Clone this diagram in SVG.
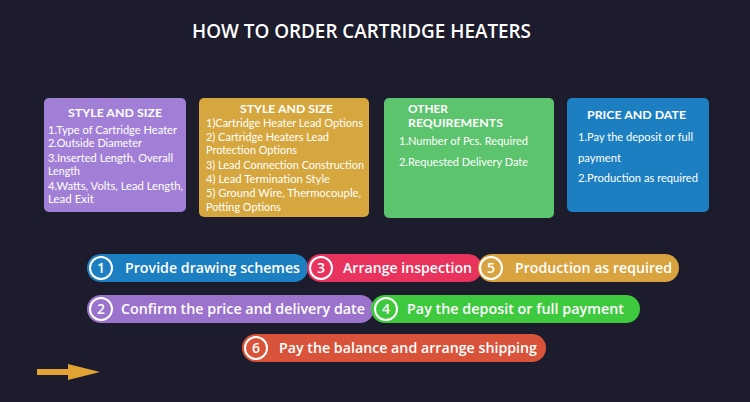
<svg xmlns="http://www.w3.org/2000/svg" width="750" height="402" viewBox="0 0 750 402">
<defs>
<style>
text{font-family:"Open Sans","Noto Sans","Liberation Sans",sans-serif;fill:#ffffff;}
.title{font-size:19px;font-weight:600;}
.bh{font-family:Lato,"Open Sans",sans-serif;font-size:12px;font-weight:700;}
.bt{font-family:Lato,"Open Sans",sans-serif;font-size:10.5px;}
.pt{font-size:14px;font-weight:600;}
.num{font-size:14px;font-weight:600;text-anchor:middle;}
.ring{fill:none;stroke:#ffffff;stroke-width:2;}
</style>
</defs>
<rect width="750" height="402" fill="#1c1c2c"/>
<text class="title" x="192" y="38" textLength="339" lengthAdjust="spacingAndGlyphs">HOW TO ORDER CARTRIDGE HEATERS</text>

<g id="box-style-size-1">
<rect x="44" y="98" width="142" height="114" rx="5" fill="#a27fd6"/>
<text class="bh" x="68" y="117" textLength="94" lengthAdjust="spacingAndGlyphs">STYLE AND SIZE</text>
<text class="bt" x="48" y="134" textLength="129" lengthAdjust="spacingAndGlyphs">1.Type of Cartridge Heater</text>
<text class="bt" x="48" y="147" textLength="94" lengthAdjust="spacingAndGlyphs">2.Outside Diameter</text>
<text class="bt" x="48" y="162" textLength="125" lengthAdjust="spacingAndGlyphs">3.Inserted Length, Overall</text>
<text class="bt" x="48" y="175" textLength="32" lengthAdjust="spacingAndGlyphs">Length</text>
<text class="bt" x="48" y="190" textLength="135" lengthAdjust="spacingAndGlyphs">4.Watts, Volts, Lead Length,</text>
<text class="bt" x="48" y="203" textLength="46" lengthAdjust="spacingAndGlyphs">Lead Exit</text>
</g>

<g id="box-style-size-2">
<rect x="199" y="98" width="170" height="119" rx="5" fill="#d6a73e"/>
<text class="bh" x="240" y="113" textLength="93" lengthAdjust="spacingAndGlyphs">STYLE AND SIZE</text>
<text class="bt" x="206" y="127" textLength="157" lengthAdjust="spacingAndGlyphs">1)Cartridge Heater Lead Options</text>
<text class="bt" x="206" y="141" textLength="123" lengthAdjust="spacingAndGlyphs">2) Cartridge Heaters Lead</text>
<text class="bt" x="206" y="154" textLength="91" lengthAdjust="spacingAndGlyphs">Protection Options</text>
<text class="bt" x="206" y="169" textLength="158" lengthAdjust="spacingAndGlyphs">3) Lead Connection Construction</text>
<text class="bt" x="206" y="183" textLength="124" lengthAdjust="spacingAndGlyphs">4) Lead Termination Style</text>
<text class="bt" x="206" y="197" textLength="155" lengthAdjust="spacingAndGlyphs">5) Ground Wire, Thermocouple,</text>
<text class="bt" x="206" y="211" textLength="75" lengthAdjust="spacingAndGlyphs">Potting Options</text>
</g>

<g id="box-other-requirements">
<rect x="384" y="98" width="170" height="120" rx="5" fill="#5cc46c"/>
<text class="bh" x="408" y="113" textLength="40" lengthAdjust="spacingAndGlyphs" style="font-size:11.5px">OTHER</text>
<text class="bh" x="408" y="127" textLength="95" lengthAdjust="spacingAndGlyphs" style="font-size:11.5px">REQUIREMENTS</text>
<text class="bt" x="399" y="145" textLength="129" lengthAdjust="spacingAndGlyphs">1.Number of Pcs. Required</text>
<text class="bt" x="399" y="166" textLength="129" lengthAdjust="spacingAndGlyphs">2.Requested Delivery Date</text>
</g>

<g id="box-price-date">
<rect x="567" y="98" width="142" height="114" rx="5" fill="#1c7fc2"/>
<text class="bh" x="587" y="119" textLength="99" lengthAdjust="spacingAndGlyphs">PRICE AND DATE</text>
<text class="bt" x="578" y="141" textLength="115" lengthAdjust="spacingAndGlyphs">1.Pay the deposit or full</text>
<text class="bt" x="578" y="162" textLength="43" lengthAdjust="spacingAndGlyphs">payment</text>
<text class="bt" x="578" y="182" textLength="120" lengthAdjust="spacingAndGlyphs">2.Production as required</text>
</g>

<g id="step-1">
<rect x="87" y="254" width="221" height="28" rx="14" fill="#1c7fc2"/>
<circle class="ring" cx="101" cy="268" r="11"/>
<text class="num" x="101" y="273">1</text>
<text class="pt" x="125" y="273" textLength="175" lengthAdjust="spacingAndGlyphs">Provide drawing schemes</text>
</g>

<g id="step-3">
<rect x="307" y="254" width="175" height="28" rx="14" fill="#e8335c"/>
<circle class="ring" cx="321" cy="268" r="11"/>
<text class="num" x="321" y="273">3</text>
<text class="pt" x="343" y="273" textLength="129" lengthAdjust="spacingAndGlyphs">Arrange inspection</text>
</g>

<g id="step-5">
<rect x="478" y="254" width="201" height="28" rx="14" fill="#d9a440"/>
<circle class="ring" cx="491" cy="268" r="11"/>
<text class="num" x="491" y="273">5</text>
<text class="pt" x="515" y="273" textLength="157" lengthAdjust="spacingAndGlyphs">Production as required</text>
</g>

<g id="step-2">
<rect x="87" y="295" width="287" height="28" rx="14" fill="#9b72cc"/>
<circle class="ring" cx="101" cy="309" r="11"/>
<text class="num" x="101" y="314">2</text>
<text class="pt" x="121" y="314" textLength="244" lengthAdjust="spacingAndGlyphs">Confirm the price and delivery date</text>
</g>

<g id="step-4">
<rect x="371" y="295" width="269" height="28" rx="14" fill="#3ec93e"/>
<circle class="ring" cx="386" cy="309" r="11"/>
<text class="num" x="386" y="314">4</text>
<text class="pt" x="407" y="314" textLength="217" lengthAdjust="spacingAndGlyphs">Pay the deposit or full payment</text>
</g>

<g id="step-6">
<rect x="242" y="334" width="304" height="28" rx="14" fill="#d9533a"/>
<circle class="ring" cx="256" cy="348" r="11"/>
<text class="num" x="256" y="353">6</text>
<text class="pt" x="279" y="353" textLength="258" lengthAdjust="spacingAndGlyphs">Pay the balance and arrange shipping</text>
</g>

<g id="connectors">
<g id="arrow">
<rect x="37" y="369" width="33" height="6" fill="#e2a332"/>
<polygon points="68,364 100,372 68,380" fill="#e2a332"/>
</g>
</g>
</svg>
